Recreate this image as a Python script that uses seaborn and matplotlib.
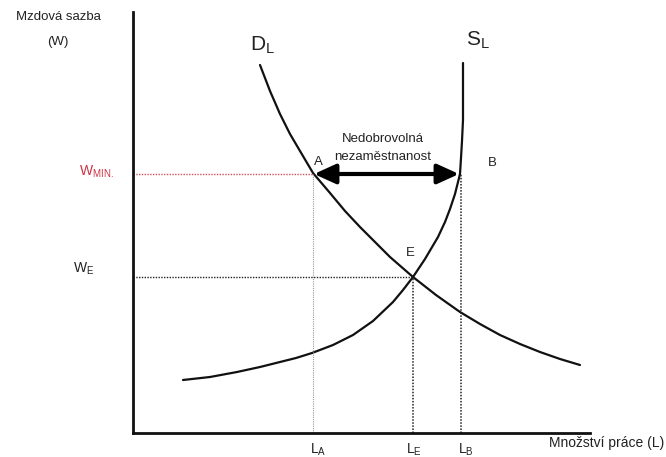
import matplotlib
matplotlib.use("Agg")
import matplotlib.pyplot as plt
import seaborn as sns
import pandas as pd

sns.set_theme(style="white")
plt.rcParams['font.family'] = ['Liberation Sans', 'DejaVu Sans']
plt.rcParams['mathtext.default'] = 'regular'

# Demand curve D_L
demand_L = [127, 137, 147, 157, 167, 180, 197, 212, 227, 242, 257, 280, 303, 327, 347, 367, 387, 407, 427, 447]
demand_W = [368, 342, 319, 299, 282, 260, 240, 222, 206, 191, 176, 156, 138, 121, 109, 98, 89, 81, 74, 68]
# Supply curve S_L
supply_L = [50, 77, 104, 127, 147, 163, 179, 200, 220, 240, 260, 270, 280, 292, 305, 312, 317, 322, 327, 328, 329, 330, 330, 330]
supply_W = [53, 56, 61, 66, 71, 75, 80, 88, 98, 112, 131, 143, 156, 174, 196, 211, 224, 239, 259, 275, 292, 313, 343, 370]

# Key points
W_MIN = 259
W_E = 156
L_A = 180
L_E = 280
L_B = 327

fig = plt.figure(figsize=(6.66, 4.57), dpi=100)
ax = fig.add_axes([133/666, 24/457, 457/666, 421/457])

dfD = pd.DataFrame({"L": demand_L, "W": demand_W})
dfS = pd.DataFrame({"L": supply_L, "W": supply_W})
sns.lineplot(data=dfD, x="L", y="W", sort=False, estimator=None, ax=ax,
             color="#111111", lw=1.6)
sns.lineplot(data=dfS, x="L", y="W", sort=False, estimator=None, ax=ax,
             color="#111111", lw=1.6)

ax.set_xlim(0, 457)
ax.set_ylim(0, 421)
ax.set_xticks([])
ax.set_yticks([])
ax.set_xlabel("")
ax.set_ylabel("")
for s in ["top", "right"]:
    ax.spines[s].set_visible(False)
for s in ["left", "bottom"]:
    ax.spines[s].set_color("#111111")
    ax.spines[s].set_linewidth(2)

# dotted guide lines
ax.plot([0, L_A], [W_MIN, W_MIN], color="#d05060", lw=1.0, ls=(0, (1, 1)))
ax.plot([0, L_E], [W_E, W_E], color="#222222", lw=1.0, ls=(0, (1, 1)))
ax.plot([L_A, L_A], [0, W_MIN], color="#999999", lw=0.8, ls=(0, (1, 1)))
ax.plot([L_E, L_E], [0, W_E], color="#222222", lw=1.1, ls=(0, (1, 1)))
ax.plot([L_B + 1, L_B + 1], [0, W_MIN], color="#222222", lw=1.1, ls=(0, (1, 1)))

# double arrow
ax.annotate("", xy=(L_B - 1, W_MIN), xytext=(L_A + 1, W_MIN),
            arrowprops=dict(arrowstyle="<|-|>,head_length=1.1,head_width=0.5",
                            color="#000000", lw=3, shrinkA=0, shrinkB=0))

def px(xp, yp):
    return xp - 133, 433 - yp

kw = dict(clip_on=False, color="#222222")
ax.text(*px(58, 17), "Mzdová sazba", ha="center", va="center", fontsize=9.5, **kw)
ax.text(*px(58, 42), "(W)", ha="center", va="center", fontsize=9.5, **kw)
ax.text(*px(262, 45), "$D_L$", ha="center", va="center", fontsize=15, **kw)
ax.text(*px(478, 40), "$S_L$", ha="center", va="center", fontsize=15, **kw)
ax.text(*px(383, 139), "Nedobrovolná", ha="center", va="center", fontsize=9.5, **kw)
ax.text(*px(383, 157), "nezaměstnanost", ha="center", va="center", fontsize=9.5, **kw)
ax.text(*px(318, 162), "A", ha="center", va="center", fontsize=9.5, **kw)
ax.text(*px(492, 163), "B", ha="center", va="center", fontsize=9.5, **kw)
ax.text(*px(410, 253), "E", ha="center", va="center", fontsize=9.5, **kw)
ax.text(*px(96, 172), "$W_{MIN.}$", ha="center", va="center", fontsize=10,
        clip_on=False, color="#cc3344")
ax.text(*px(84, 269), "$W_E$", ha="center", va="center", fontsize=10, **kw)
ax.text(*px(318, 450), "$L_A$", ha="center", va="center", fontsize=10, **kw)
ax.text(*px(414, 450), "$L_E$", ha="center", va="center", fontsize=10, **kw)
ax.text(*px(466, 450), "$L_B$", ha="center", va="center", fontsize=10, **kw)
ax.text(*px(607, 443), "Množství práce (L)", ha="center", va="center", fontsize=10, **kw)

fig.savefig("out.png", dpi=100)
